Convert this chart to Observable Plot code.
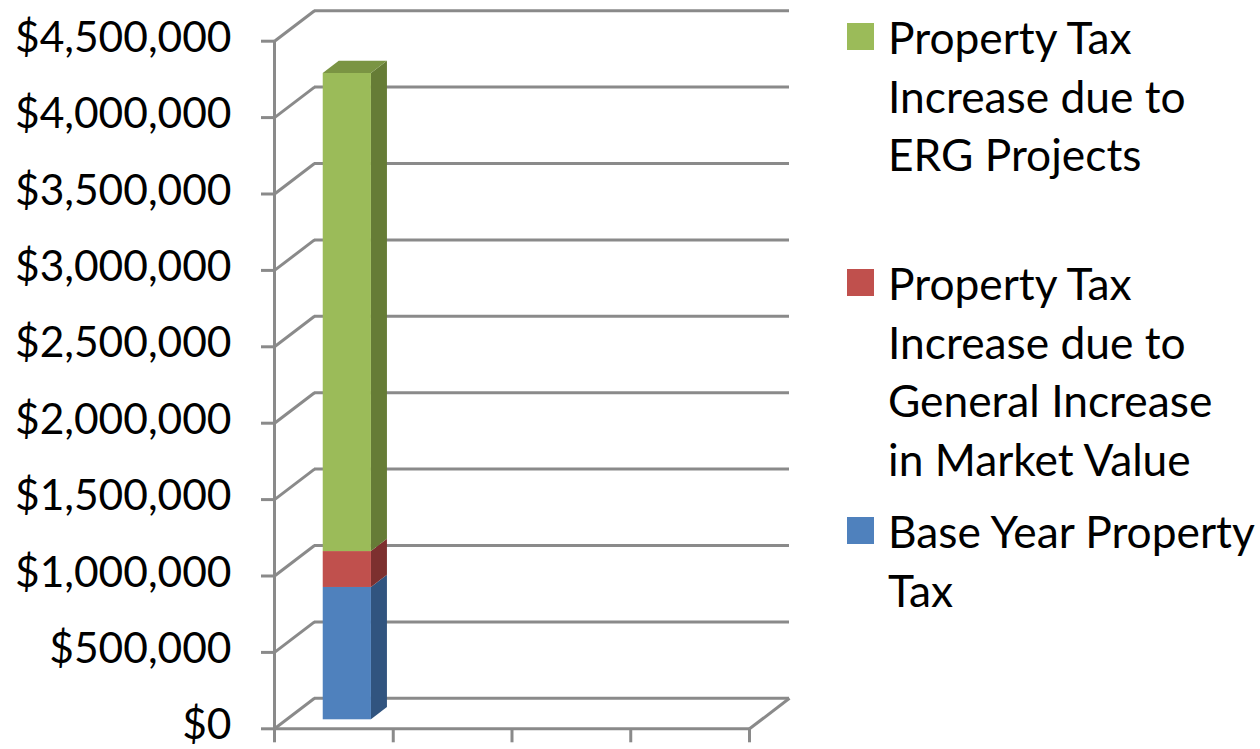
<!DOCTYPE html>
<html>
<head>
<meta charset="utf-8">
<script src="https://cdn.jsdelivr.net/npm/d3@7"></script>
<script src="https://cdn.jsdelivr.net/npm/@observablehq/plot@0.6"></script>
<style>
  html, body { margin: 0; padding: 0; background: #fff; }
  #wrap { position: relative; width: 1260px; height: 749px; overflow: hidden; font-family: "Lato", sans-serif; }
  #chart { position: absolute; left: 0; top: 0; }
  .entry { position: absolute; left: 847px; }
  .swatch { position: absolute; left: 0; width: 27px; height: 27px; }
  .label { position: absolute; left: 41px; white-space: pre; font-size: 44.3px; line-height: 58.5px; color: #000; }
</style>
</head>
<body>
<div id="wrap">
  <div id="chart"></div>
  <div id="legend"></div>
</div>
<script>
// ---- data ----
const categories = ["1", "2", "3", "4"];
const seriesNames = [
  "Base Year Property Tax",
  "Property Tax Increase due to General Increase in Market Value",
  "Property Tax Increase due to ERG Projects"
];
const baseYearPropertyTax = [866000, null, null, null];
const generalIncrease = [235000, null, null, null];
const ergIncrease = [3129000, null, null, null];
const yTicks = [0, 500000, 1000000, 1500000, 2000000, 2500000, 3000000, 3500000, 4000000, 4500000];
const legendLines = [
  "Property Tax\nIncrease due to\nERG Projects",
  "Property Tax\nIncrease due to\nGeneral Increase\nin Market Value",
  "Base Year Property\nTax"
];

// ---- styles ----
const frontColors = ["#4F81BD", "#C0504D", "#9BBB59"];
const sideColors = ["#31547F", "#7D302F", "#667C36"];
const topColors = ["#3E6796", "#98403D", "#7A9443"];
const grid = "#8A8A8A";

// ---- geometry (layout) ----
const W = 820, H = 749;
const mL = 274, mR = 71, mT = 40.7, mB = 20.7;
const pxPerX = (W - mL - mR) / categories.length;
const pxPerY = (H - mT - mB) / yTicks[yTicks.length - 1];
const depth = {x: 40 / pxPerX, y: 30.5 / pxPerY};   // wall depth in data units
const f0 = 0.295, f1 = 0.695;                       // bar depth range
const bx0 = 0.311, bx1 = 0.717;                      // bar extent within slot

// ---- build stacked table ----
const seriesValues = [baseYearPropertyTax, generalIncrease, ergIncrease];
const segs = [];
categories.forEach((c, i) => {
  let acc = 0;
  seriesValues.forEach((vals, s) => {
    const v = vals[i];
    if (v == null) return;
    segs.push({cat: i, s, lo: acc, hi: acc + v});
    acc += v;
  });
});
const topSeg = d3.rollups(segs, v => v[v.length - 1], d => d.cat).map(d => d[1]);
const fmt = d => "$" + d3.format(",")(d);

const marks = [];
// back wall grid lines
marks.push(Plot.ruleY(yTicks, {y: d => d + depth.y, x1: depth.x, x2: categories.length + depth.x, stroke: grid, strokeWidth: 3}));
// side wall diagonals
marks.push(Plot.link(yTicks, {x1: 0, y1: d => d, x2: depth.x, y2: d => d + depth.y, stroke: grid, strokeWidth: 3}));
// floor front edge and right edge
marks.push(Plot.ruleY([0], {x1: 0, x2: categories.length, stroke: grid, strokeWidth: 3}));
marks.push(Plot.link([0], {x1: categories.length, y1: 0, x2: categories.length + depth.x, y2: depth.y, stroke: grid, strokeWidth: 3}));
// front vertical axis line
marks.push(Plot.ruleX([0], {y1: 0, y2: yTicks[yTicks.length - 1], stroke: grid, strokeWidth: 3}));
// axes: tick marks
marks.push(Plot.axisY(yTicks, {tickSize: 13, tickFormat: () => "", stroke: grid, strokeWidth: 3}));
marks.push(Plot.axisX(d3.range(categories.length + 1), {tickSize: 14, tickFormat: () => "", stroke: grid, strokeWidth: 3}));
// y tick labels
marks.push(Plot.text(yTicks, {x: 0, y: d => d, text: fmt, textAnchor: "end", dx: -43, dy: -3, fontSize: 42.5, fill: "#000"}));

// bars: side faces, front faces, top face
segs.forEach(d => {
  const xr = d.cat + bx1;
  const pts = [
    {x: xr + f0 * depth.x, y1: d.lo + f0 * depth.y, y2: d.hi + f0 * depth.y},
    {x: xr + f1 * depth.x, y1: d.lo + f1 * depth.y, y2: d.hi + f1 * depth.y}
  ];
  marks.push(Plot.areaY(pts, {x: "x", y1: "y1", y2: "y2", fill: sideColors[d.s]}));
});
segs.forEach(d => {
  marks.push(Plot.rectY([d], {
    x1: r => r.cat + bx0 + f0 * depth.x, x2: r => r.cat + bx1 + f0 * depth.x,
    y1: r => r.lo + f0 * depth.y, y2: r => r.hi + f0 * depth.y,
    fill: frontColors[d.s]
  }));
});
topSeg.forEach(d => {
  const pts = [
    {y: d.hi + f0 * depth.y, x1: d.cat + bx0 + f0 * depth.x, x2: d.cat + bx1 + f0 * depth.x},
    {y: d.hi + f1 * depth.y, x1: d.cat + bx0 + f1 * depth.x, x2: d.cat + bx1 + f1 * depth.x}
  ];
  marks.push(Plot.areaX(pts, {y: "y", x1: "x1", x2: "x2", fill: topColors[d.s]}));
});

const chart = Plot.plot({
  width: W, height: H,
  marginLeft: mL, marginRight: mR, marginTop: mT, marginBottom: mB,
  x: {domain: [0, categories.length], axis: null},
  y: {domain: [0, yTicks[yTicks.length - 1]], axis: null},
  style: {fontFamily: "Lato", background: "transparent", overflow: "visible", color: "#000"},
  marks
});
document.getElementById("chart").appendChild(chart);

// legend (top to bottom: reverse stack order)
const legend = document.getElementById("legend");
const entryTops = [8, 254, 502];
[2, 1, 0].forEach((s, k) => {
  const e = document.createElement("div");
  e.className = "entry";
  e.style.top = entryTops[k] + "px";
  const sw = document.createElement("div");
  sw.className = "swatch";
  sw.style.background = frontColors[s];
  sw.style.top = "15px";
  const lb = document.createElement("div");
  lb.className = "label";
  lb.textContent = legendLines[k];
  lb.title = seriesNames[s];
  e.appendChild(sw); e.appendChild(lb);
  legend.appendChild(e);
});
</script>
</body>
</html>
